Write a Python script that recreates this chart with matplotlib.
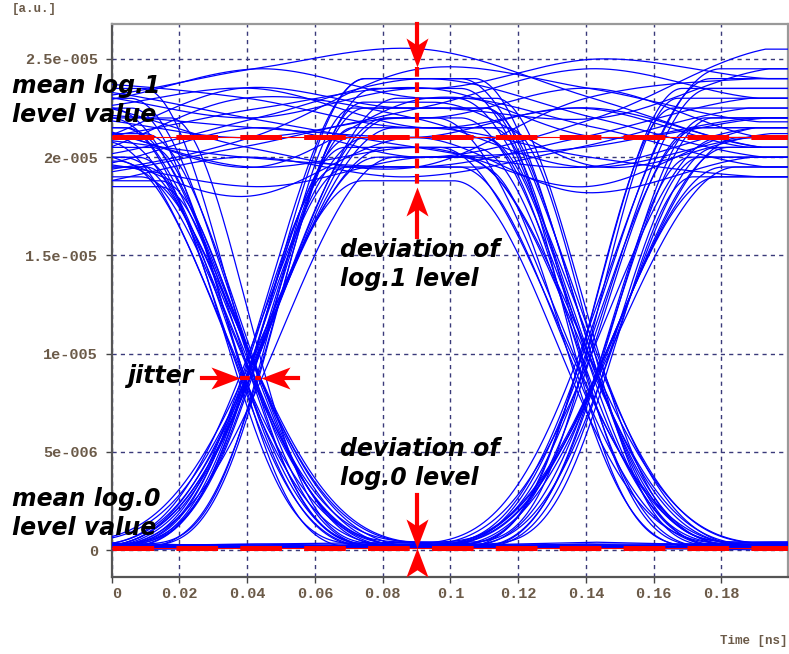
import numpy as np
import matplotlib.pyplot as plt
from matplotlib.path import Path
from matplotlib.transforms import offset_copy

plt.rcParams['lines.scale_dashes'] = False

# node times of the 3-bit window [ns]: bit centre, boundary, centre, boundary, centre
node_t = np.array([-0.009, 0.041, 0.091, 0.141, 0.191])

# level of each trace at the nodes [1e-5 a.u.]; a 0 on a boundary node = edge 1<->0
traces = [
    # 1 1 1
    [2.30, 2.45, 2.55, 2.30, 2.05],
    [2.05, 1.80, 2.10, 1.82, 2.00],
    [2.20, 2.10, 2.25, 2.45, 2.30],
    [1.95, 2.15, 2.00, 2.20, 2.55],
    [2.35, 2.20, 2.05, 1.95, 2.15],
    [2.10, 2.25, 2.35, 2.10, 2.20],
    [1.85, 2.00, 1.90, 2.05, 2.25],
    [2.25, 2.35, 2.15, 2.25, 2.05],
    [2.00, 2.30, 2.20, 1.95, 2.10],
    [2.15, 1.95, 2.30, 2.15, 1.95],
    [1.92, 2.10, 2.45, 2.35, 2.18],
    [2.28, 2.05, 1.95, 2.30, 2.40],
    # 1 1 0
    [2.38, 2.30, 2.15, 0, 0.02],
    [2.00, 2.20, 2.40, 0, 0.01],
    [2.15, 1.95, 2.05, 0, 0.03],
    [1.90, 2.05, 2.20, 0, 0.01],
    [2.28, 2.45, 2.30, 0, 0.04],
    [2.10, 2.00, 1.95, 0, 0.01],
    [2.22, 2.15, 2.10, 0, 0.02],
    [1.97, 1.85, 2.00, 0, 0.03],
    [2.05, 2.35, 2.25, 0, 0.02],
    [2.32, 2.20, 2.35, 0, 0.01],
    # 0 1 1
    [0.01, 0, 2.20, 2.35, 2.10],
    [0.03, 0, 2.05, 1.85, 2.15],
    [0.01, 0, 2.35, 2.50, 2.40],
    [0.02, 0, 1.95, 2.10, 2.30],
    [0.04, 0, 2.15, 2.00, 1.90],
    [0.03, 0, 2.25, 2.20, 2.45],
    [0.02, 0, 2.10, 2.25, 2.05],
    [0.01, 0, 2.40, 2.20, 2.00],
    [0.02, 0, 2.00, 2.05, 2.20],
    [0.01, 0, 2.28, 1.95, 2.12],
    # 1 0 0
    [2.05, 0, 0.01, 0.01, 0.02],
    [2.20, 0, 0.03, 0.02, 0.01],
    [1.90, 0, 0.01, 0.02, 0.04],
    [2.35, 0, 0.02, 0.03, 0.01],
    [2.10, 0, 0.04, 0.01, 0.02],
    [1.85, 0, 0.02, 0.02, 0.01],
    [2.15, 0, 0.01, 0.03, 0.03],
    [2.00, 0, 0.03, 0.01, 0.02],
    [2.25, 0, 0.01, 0.01, 0.01],
    [1.95, 0, 0.02, 0.04, 0.02],
    # 1 0 1
    [2.15, 0, 0.01, 0, 2.05],
    [1.95, 0, 0.03, 0, 2.25],
    [2.25, 0, 0.01, 0, 1.95],
    [2.00, 0, 0.02, 0, 2.15],
    [2.30, 0, 0.04, 0, 2.35],
    [1.88, 0, 0.01, 0, 2.00],
    [2.08, 0, 0.02, 0, 2.10],
    [2.20, 0, 0.03, 0, 1.90],
    [1.98, 0, 0.02, 0, 2.40],
    [2.12, 0, 0.01, 0, 2.20],
    # 0 1 0
    [0.02, 0, 2.10, 0, 0.01],
    [0.01, 0, 2.30, 0, 0.03],
    [0.03, 0, 1.95, 0, 0.01],
    [0.01, 0, 2.20, 0, 0.02],
    [0.02, 0, 2.40, 0, 0.04],
    [0.04, 0, 2.05, 0, 0.02],
    [0.02, 0, 2.15, 0, 0.02],
    [0.01, 0, 1.88, 0, 0.03],
    [0.03, 0, 2.25, 0, 0.01],
    [0.01, 0, 2.00, 0, 0.02],
    # 0 0 1
    [0.01, 0.01, 0.02, 0, 2.10],
    [0.02, 0.03, 0.04, 0, 2.30],
    [0.01, 0.02, 0.02, 0, 1.90],
    [0.03, 0.01, 0.01, 0, 2.20],
    [0.01, 0.01, 0.03, 0, 2.45],
    [0.02, 0.02, 0.01, 0, 2.00],
    [0.04, 0.02, 0.01, 0, 2.15],
    [0.02, 0.01, 0.02, 0, 2.05],
    [0.01, 0.01, 0.01, 0, 2.35],
    [0.02, 0.03, 0.02, 0, 1.95],
    # 0 0 0
    [0.01, 0.02, 0.01, 0.02, 0.01],
    [0.02, 0.01, 0.02, 0.01, 0.02],
    [0.03, 0.02, 0.03, 0.02, 0.03],
    [0.00, 0.01, 0.02, 0.01, 0.00],
]

# timing offset of each trace [ns]
skew = [0.001, -0.002, 0.000, 0.002, -0.001, 0.003, -0.003, 0.001, -0.002, 0.002, 0.000, -0.001,
        -0.001, 0.002, 0.000, -0.003, 0.003, -0.002, 0.001, 0.0035, -0.0035, 0.000,
        0.001, -0.001, 0.0025, -0.0025, 0.000, 0.003, -0.003, 0.0015, -0.0015, 0.0035,
        -0.002, 0.001, 0.003, -0.001, 0.000, 0.002, -0.0035, 0.0035, -0.003, 0.0015,
        0.002, -0.003, 0.001, -0.001, 0.000, 0.003, -0.002, 0.0035, -0.0015, 0.0025,
        -0.001, 0.002, -0.003, 0.001, 0.000, -0.002, 0.003, -0.0035, 0.0015, 0.0025,
        0.002, -0.001, 0.000, 0.003, -0.002, 0.001, -0.003, 0.0035, -0.0025, 0.0005,
        0.000, 0.001, -0.001, 0.002]

# relative edge duration of each trace
edge = [1.00, 0.85, 1.20, 0.95, 1.10, 0.80, 1.25, 0.90, 1.05, 1.15, 0.88, 1.00,
        0.82, 1.18, 1.00, 1.25, 0.90, 1.08, 0.95, 1.22, 0.80, 1.12,
        1.20, 0.85, 1.00, 0.92, 1.25, 0.80, 1.10, 0.95, 1.15, 0.88,
        0.80, 1.25, 1.05, 0.90, 1.18, 0.85, 1.00, 1.22, 0.95, 1.12,
        1.15, 0.82, 1.25, 0.95, 1.05, 0.88, 1.20, 0.80, 1.10, 1.00,
        0.90, 1.22, 0.85, 1.15, 1.00, 1.25, 0.80, 1.08, 0.95, 1.18,
        1.25, 0.80, 1.12, 0.92, 1.20, 0.85, 1.05, 1.00, 0.88, 1.15,
        1.00, 1.00, 1.00, 1.00]

mean1 = 2.103e-5
mean0 = 0.01e-5

xticks = [0, 0.02, 0.04, 0.06, 0.08, 0.1, 0.12, 0.14, 0.16, 0.18]
xlabels = ['0', '0.02', '0.04', '0.06', '0.08', '0.1', '0.12', '0.14', '0.16', '0.18']
yticks = [0, 5e-6, 1e-5, 1.5e-5, 2e-5, 2.5e-5]
ylabels = ['0', '5e-006', '1e-005', '1.5e-005', '2e-005', '2.5e-005']


def fall(u, w):
    # field envelope of a 1->0 edge between two bit centres, pivot at u = 0.5
    x = np.clip(0.4048 + (u - 0.5) / (0.84 * w), 0, 1)
    return 0.5 * (1 + np.cos(np.pi * x))


def trace_curve(t, lv, dt, w):
    lv = np.asarray(lv, float)
    hi = lv > 0.5
    tt = np.clip(t - dt, node_t[0], node_t[-1])
    out = np.zeros_like(tt)
    m = np.zeros(5)
    for i in range(5):
        if not hi[i]:
            continue
        l = i > 0 and hi[i - 1]
        r = i < 4 and hi[i + 1]
        if l and r:
            m[i] = (lv[i + 1] - lv[i - 1]) / 2
        elif i == 0 and r:
            m[i] = (lv[1] - lv[0]) / 2
        elif i == 4 and l:
            m[i] = (lv[4] - lv[3]) / 2
    for k in range(2):
        a, c = 2 * k, 2 * k + 2
        sel = (tt >= node_t[a]) & (tt <= node_t[c])
        u = (tt[sel] - node_t[a]) / 0.1
        if hi[a] and hi[c]:
            s = u * 2
            i0 = np.where(s <= 1, a, a + 1)
            s = np.where(s <= 1, s, s - 1)
            h00 = 2 * s**3 - 3 * s**2 + 1
            h10 = s**3 - 2 * s**2 + s
            h01 = -2 * s**3 + 3 * s**2
            h11 = s**3 - s**2
            out[sel] = h00 * lv[i0] + h10 * m[i0] + h01 * lv[i0 + 1] + h11 * m[i0 + 1]
        elif hi[a]:
            e = fall(u, w) ** 2
            out[sel] = lv[a] * e + lv[c] * (1 - e)
        elif hi[c]:
            e = fall(1 - u, w) ** 2
            out[sel] = lv[a] * (1 - e) + lv[c] * e
        else:
            out[sel] = np.interp(tt[sel], node_t[a:c + 1], lv[a:c + 1])
    return out * 1e-5


def head(angle):
    v = np.array([[0, 0], [-1, 0.38], [-0.75, 0], [-1, -0.38], [0, 0]])
    a = np.deg2rad(angle)
    rot = np.array([[np.cos(a), -np.sin(a)], [np.sin(a), np.cos(a)]])
    return Path(v @ rot.T, [Path.MOVETO, Path.LINETO, Path.LINETO,
                            Path.LINETO, Path.CLOSEPOLY])


fig = plt.figure(figsize=(7.89, 6.54), dpi=100)
ax = fig.add_axes([0.1416, 0.1177, 0.8574, 0.8456])

t = np.linspace(0, 0.2, 800)
for lv, dt, w in zip(traces, skew, edge):
    ax.plot(t, trace_curve(t, lv, dt, w), color='#0000ff', lw=0.9, zorder=3)

ax.set_xlim(0, 0.1997)
ax.set_ylim(-1.375e-6, 2.678e-5)
ax.set_xticks(xticks)
ax.set_xticklabels(xlabels)
ax.set_yticks(yticks)
ax.set_yticklabels(ylabels)

for lab in ax.get_xticklabels() + ax.get_yticklabels():
    lab.set_fontfamily('Liberation Mono')
    lab.set_fontsize(11)
    lab.set_fontweight('bold')
    lab.set_color('#6b5a48')
lab0 = ax.get_xticklabels()[0]
lab0.set_ha('left')
lab0.set_transform(offset_copy(lab0.get_transform(), fig=fig, x=5, units='dots'))

ax.tick_params(axis='both', direction='out', length=4, width=1, color='#444444')
ax.tick_params(axis='y', pad=6)
ax.tick_params(axis='x', pad=3)
ax.grid(True, color='#3a3a7a', lw=1, linestyle=(0, (3, 3)), zorder=1)
ax.set_axisbelow(True)
for side in ['left', 'bottom']:
    ax.spines[side].set_color('#555555')
    ax.spines[side].set_linewidth(1.6)
for side in ['top', 'right']:
    ax.spines[side].set_color('#999999')
    ax.spines[side].set_linewidth(1.6)

# mean level lines
red = '#ff0000'
for yv in [mean1, mean0]:
    ax.plot([0, 0.1997], [yv, yv], color=red, lw=0.8, zorder=5)
    ax.plot([0, 0.1997], [yv, yv], color=red, lw=3.6, linestyle=(0, (30, 16)),
            dash_capstyle='butt', zorder=5)

vdash = (0, (7, 4))
hl = 41.8  # arrow head size [pt]
xd = 0.0901
# deviation of log.1 level
ax.plot([xd, xd], [2.678e-5, 2.57e-5], color=red, lw=3, zorder=6, clip_on=False)
ax.plot([xd, xd], [2.459e-5, 1.848e-5], color=red, lw=3, linestyle=vdash, zorder=6)
ax.plot([xd, xd], [1.737e-5, 1.594e-5], color=red, lw=3, zorder=6)
ax.plot(xd, 2.459e-5, marker=head(-90), ms=hl, color=red, mew=0, zorder=7)
ax.plot(xd, 1.848e-5, marker=head(90), ms=hl, color=red, mew=0, zorder=7)
# deviation of log.0 level
ax.plot([xd, xd], [2.8e-6, 1.2e-6], color=red, lw=3, zorder=6)
ax.plot(xd, 0.1e-6, marker=head(-90), ms=hl, color=red, mew=0, zorder=7, clip_on=False)
ax.plot(xd, 0.1e-6, marker=head(90), ms=hl, color=red, mew=0, zorder=7, clip_on=False)
# jitter
yj = 8.76e-6
ax.plot([0.0266, 0.0314], [yj, yj], color=red, lw=3, zorder=6)
ax.plot([0.0378, 0.0442], [yj, yj], color=red, lw=3, linestyle=vdash, zorder=6)
ax.plot([0.0506, 0.0550], [yj, yj], color=red, lw=3, zorder=6)
ax.plot(0.0378, yj, marker=head(0), ms=hl, color=red, mew=0, zorder=7)
ax.plot(0.0442, yj, marker=head(180), ms=hl, color=red, mew=0, zorder=7)

W, H = 789, 654
note = dict(fontsize=17, fontweight='bold', fontstyle='italic', family='DejaVu Sans',
            color='black', ha='left', va='top', linespacing=1.28)
fig.text(12 / W, 1 - 74 / H, 'mean log.1\nlevel value', **note)
fig.text(340 / W, 1 - 238 / H, 'deviation of\nlog.1 level', **note)
fig.text(127 / W, 1 - 364 / H, 'jitter', **note)
fig.text(340 / W, 1 - 437 / H, 'deviation of\nlog.0 level', **note)
fig.text(12 / W, 1 - 487 / H, 'mean log.0\nlevel value', **note)

fig.text(12 / W, 1 - 9 / H, '[a.u.]', fontsize=9, family='Liberation Mono',
         fontweight='bold', color='#6b5a48', ha='left', va='center')
fig.text(787 / W, 1 - 641 / H, 'Time [ns]', fontsize=9, family='Liberation Mono',
         fontweight='bold', color='#6b5a48', ha='right', va='center')

fig.savefig('out.png', dpi=100)
